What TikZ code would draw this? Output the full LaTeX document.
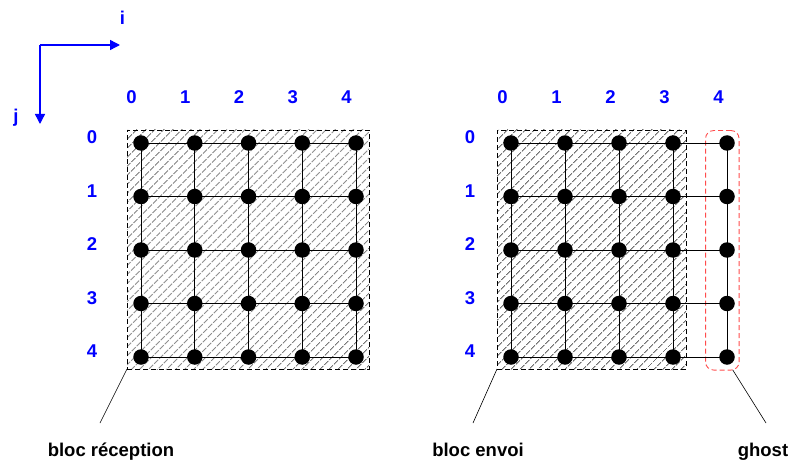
\documentclass[tikz,border=0pt]{standalone}
\usepackage{fontspec}
\setmainfont{Liberation Sans}
\usetikzlibrary{patterns.meta,arrows.meta}
\begin{document}
\begin{tikzpicture}[x=1pt,y=-1pt,
 dot/.style={circle,fill=black,inner sep=0pt,minimum size=15.5pt},
 lab/.style={font=\fontsize{18.5}{22}\selectfont\bfseries, inner sep=0pt, anchor=base},
 idx/.style={lab,text=blue},
 hatch/.style={draw=black,line width=0.7pt,dash pattern=on 5pt off 3pt,
   pattern={Lines[angle=45,distance=6.4pt,line width=0.75pt]},pattern color=black!85,
   inner sep=0pt,outer sep=0pt},
 link/.style={line width=0.9pt},
 ghostbox/.style={draw=red!70,line width=0.9pt,dash pattern=on 5pt off 3pt,rounded corners=8pt,inner sep=0pt,outer sep=0pt},
 leader/.style={line width=0.6pt},
 axis/.style={blue,line width=1.4pt,-{Triangle[length=10pt,width=10pt]}}]
\useasboundingbox (0,0) rectangle (791,462);

% hatched blocks
\node[hatch,minimum width=242pt,minimum height=239pt] (recv) at (248,249.5) {};
\node[hatch,minimum width=189pt,minimum height=239pt] (send) at (591.5,249.5) {};
\node[ghostbox,minimum width=33.5pt,minimum height=239.5pt] (ghost) at (722.3,250.3) {};

% grid coordinates
\foreach \i in {0,...,4}{
  \foreach \j in {0,...,4}{
    \coordinate (Lp\i\j) at ({141+53.75*\i},{143+53.5*\j});
    \coordinate (Rp\i\j) at ({511+54*\i},{143+53.5*\j});
  }
}
% grid lines
\foreach \k in {0,...,4}{
  \draw[link] (Lp0\k) -- (Lp4\k);
  \draw[link] (Lp\k0) -- (Lp\k4);
  \draw[link] (Rp0\k) -- (Rp4\k);
  \draw[link] (Rp\k0) -- (Rp\k4);
}
% dots
\foreach \i in {0,...,4}{
  \foreach \j in {0,...,4}{
    \node[dot] (L\i\j) at (Lp\i\j) {};
    \node[dot] (R\i\j) at (Rp\i\j) {};
  }
}
% index labels
\foreach \k in {0,...,4}{
  \node[idx] (Lc\k) at ({131.5+53.75*\k},104) {\k};
  \node[idx] (Rc\k) at ({502.5+54*\k},104) {\k};
  \node[idx] (Lr\k) at (92,{143.5+53.5*\k}) {\k};
  \node[idx] (Rr\k) at (470,{143.5+53.5*\k}) {\k};
}

% axes
\coordinate (O) at (40,45);
\coordinate (Iend) at (120,45);
\coordinate (Jend) at (40,124);
\draw[axis] (O) -- (Iend);
\draw[axis] (O) -- (Jend);
\node[idx] (ilab) at (122.5,25) {i};
\node[idx] (jlab) at (16,123) {j};

% leaders and captions
\node[lab] (recvlab) at (111,456) {bloc réception};
\node[lab] (sendlab) at (478,456) {bloc envoi};
\node[lab] (ghostlab) at (763,456) {ghost};
\coordinate (recvend) at (100,423);
\coordinate (sendend) at (473,423);
\coordinate (ghostend) at (766,423);
\draw[leader] (recv.south west) -- (recvend);
\draw[leader] (send.south west) -- (sendend);
\draw[leader] ([xshift=10.5pt]ghost.south) -- (ghostend);
\end{tikzpicture}
\end{document}
